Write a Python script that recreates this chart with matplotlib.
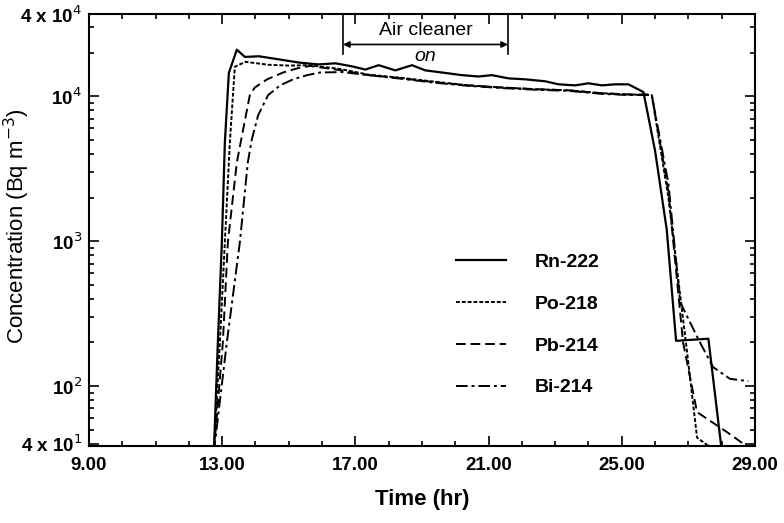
import matplotlib
matplotlib.use('Agg')
import matplotlib.pyplot as plt
from matplotlib.ticker import FixedLocator, LogLocator, NullFormatter

plt.rcParams['font.family'] = ['Liberation Sans', 'DejaVu Sans']

# time (hr) and concentration (Bq m-3)
rn_t = [12.75, 12.87, 12.99, 13.08, 13.2, 13.44, 13.68, 14.1, 14.7, 15.3, 15.9, 16.4, 16.9, 17.3,
        17.7, 18.2, 18.7, 19.1, 19.6, 20.2, 20.7, 21.1, 21.6, 22.1, 22.7, 23.1, 23.6, 24.0,
        24.4, 24.8, 25.2, 25.65, 26.0, 26.35, 26.63, 27.6, 28.0]
rn_c = [35, 200, 980, 4800, 14500, 21000, 18700, 18900, 18000, 17100, 16600, 16900, 16100, 15300,
        16400, 15100, 16400, 15100, 14600, 14000, 13700, 14000, 13300, 13100, 12700, 12100, 11900, 12300,
        11900, 12100, 12100, 10700, 4200, 1200, 205, 212, 36]

po_t = [12.75, 12.93, 13.08, 13.23, 13.38, 13.7, 14.4, 15.0, 15.6, 16.5, 17.4, 18.4, 19.4,
        20.4, 21.4, 22.4, 23.4, 24.4, 25.2, 25.9, 26.4, 26.96, 27.26, 27.71]
po_c = [35, 200, 980, 4800, 16000, 17300, 16500, 16300, 16400, 15500, 14100, 13400, 12600,
        11900, 11500, 11200, 11000, 10500, 10300, 10200, 2000, 171, 44, 37]

pb_t = [12.75, 13.02, 13.17, 13.44, 13.83, 13.98, 14.35, 14.83, 15.34, 15.64, 16.5, 17.4, 18.4,
        19.4, 20.4, 21.4, 22.4, 23.4, 24.4, 25.2, 25.9, 26.4, 26.84, 27.26, 28.16, 28.85]
pb_c = [35, 200, 980, 3500, 10200, 11500, 13100, 14600, 15800, 16200, 15200, 14000, 13300,
        12500, 11900, 11500, 11200, 11000, 10500, 10300, 10300, 2200, 200, 66, 48, 37]

bi_t = [12.75, 13.14, 13.53, 13.77, 13.89, 14.08, 14.38, 14.74, 15.13, 15.55, 15.94, 16.6, 17.4,
        18.4, 19.4, 20.4, 21.4, 22.4, 23.4, 24.4, 25.2, 25.9, 26.4, 26.75, 27.3, 27.74, 28.25, 28.8]
bi_c = [35, 200, 980, 3500, 5050, 7400, 10200, 11900, 13100, 14000, 14600, 14700, 14000,
        13200, 12400, 11800, 11400, 11100, 10900, 10400, 10200, 10200, 2500, 380, 210, 135, 112, 108]

labels = ['Rn-222', 'Po-218', 'Pb-214', 'Bi-214']
x_ticks = [9, 13, 17, 21, 25, 29]
y_ticks = [40, 100, 1000, 10000, 37000]
y_ticklabels = ['4 x 10$^1$', '10$^2$', '10$^3$', '10$^4$', '4 x 10$^4$']

air_on, air_off = 16.63, 21.58

fig = plt.figure(figsize=(7.84, 5.23), dpi=100)
ax = fig.add_axes([0.1135, 0.1472, 0.8495, 0.826])

ax.plot(rn_t, rn_c, color='black', lw=1.6, ls='-', label=labels[0])
ax.plot(po_t, po_c, color='black', lw=1.4, dashes=(2, 1), label=labels[1])
ax.plot(pb_t, pb_c, color='black', lw=1.4, dashes=(5, 2.5), label=labels[2])
ax.plot(bi_t, bi_c, color='black', lw=1.4, dashes=(6, 2, 1.5, 2), label=labels[3])

ax.set_yscale('log')
ax.set_xlim(9, 29)
ax.set_ylim(38.5, 37000)

ax.xaxis.set_major_locator(FixedLocator(x_ticks))
ax.set_xticklabels(['%.2f' % v for v in x_ticks])
ax.xaxis.set_minor_locator(FixedLocator(range(9, 30)))
ax.yaxis.set_major_locator(FixedLocator(y_ticks))
ax.set_yticklabels(y_ticklabels)
ax.yaxis.set_minor_locator(LogLocator(base=10, subs=range(2, 10)))
ax.yaxis.set_minor_formatter(NullFormatter())

ax.tick_params(which='both', direction='in', top=True, right=True, width=1.2)
ax.tick_params(which='major', length=7, labelsize=13.5)
ax.tick_params(axis='x', which='major', pad=8)
ax.tick_params(axis='y', which='major', pad=5)
ax.tick_params(which='minor', length=3.5)
for lab in ax.get_xticklabels() + ax.get_yticklabels():
    lab.set_fontweight('bold')
for s in ax.spines.values():
    s.set_linewidth(1.5)

ax.set_xlabel('Time (hr)', fontsize=16, fontweight='bold')
ax.xaxis.set_label_coords(0.5, -0.1)
ax.set_ylabel('Concentration (Bq m$^{-3}$)', fontsize=16)
ax.yaxis.set_label_coords(-0.086, 0.51)

# air cleaner bracket
ax.plot([air_on, air_on], [37000, 19500], color='black', lw=1.2)
ax.plot([air_off, air_off], [37000, 19500], color='black', lw=1.2)
ax.annotate('', xy=(air_off, 22800), xytext=(air_on, 22800),
            arrowprops=dict(arrowstyle='<|-|>', color='black', lw=1.2, mutation_scale=9,
                            shrinkA=0, shrinkB=0))
ax.text((air_on + air_off) / 2, 25000, 'Air cleaner', ha='center', va='bottom', fontsize=14)
ax.text((air_on + air_off) / 2, 21500, 'on', ha='center', va='top', fontsize=14, style='italic')

leg = ax.legend(loc='upper left', bbox_to_anchor=(0.5245, 0.487), frameon=False, fontsize=14,
                handlelength=2.6, handletextpad=1.45, labelspacing=1.25)
for t in leg.get_texts():
    t.set_fontweight('bold')

fig.savefig('out.png', dpi=100)
